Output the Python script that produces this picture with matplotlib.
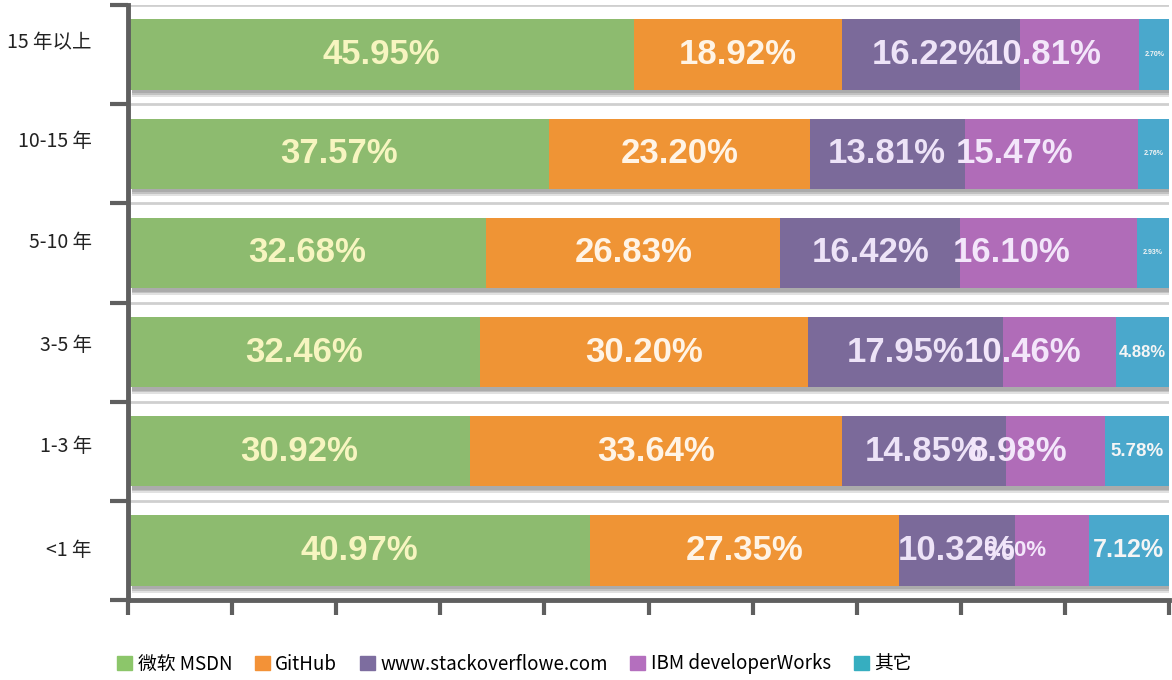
import matplotlib.pyplot as plt
from matplotlib.patches import Patch
from matplotlib.transforms import ScaledTranslation
import numpy as np

plt.rcParams['font.family'] = ['Noto Sans CJK SC', 'DejaVu Sans']

groups = ['15 年以上', '10-15 年', '5-10 年', '3-5 年', '1-3 年', '<1 年']
sources = ['微软 MSDN', 'GitHub', 'www.stackoverflowe.com', 'IBM developerWorks', '其它']
msdn = [45.95, 37.57, 32.68, 32.46, 30.92, 40.97]
github = [18.92, 23.20, 26.83, 30.20, 33.64, 27.35]
stack = [16.22, 13.81, 16.42, 17.95, 14.85, 10.32]
ibm = [10.81, 15.47, 16.10, 10.46, 8.98, 6.50]
other = [2.70, 2.76, 2.93, 4.88, 5.78, 7.12]

colors = ['#8dbb6f', '#ef9435', '#7b6a9a', '#b06cb8', '#4aa8cc']
legend_colors = ['#8cc66a', '#f39237', '#7d6d9f', '#b46fbe', '#36aec0']
text_colors = ['#f7f5c0', '#fff4e6', '#ede3f7', '#f3e6fa', '#f5f5f5']
# label sizes, per series / per row
label_sizes = [[25] * 6, [25] * 6, [25] * 6, [25, 25, 25, 25, 25, 16], [5, 5, 5, 12, 13.5, 18]]
label_shift = [0, 0, 0, -26.6, 0]
# the row names sit a bit above the bar centres in the original
ylabel_raise = [15, 15, 13, 9, 7, 2]

data = np.array([msdn, github, stack, ibm, other])
share = data / data.sum(axis=0)
y = np.arange(len(groups))

fig = plt.figure(figsize=(11.72, 6.8), dpi=100)
ax = fig.add_axes([128 / 1172, 80 / 680, (1169 - 128) / 1172, 595 / 680])

# soft drop shadow under the bars
for dy, a in [(0.07, 0.25), (0.05, 0.35), (0.035, 0.4)]:
    ax.barh(y + dy, 1.0, left=0.004, height=0.71, color='#8a8a8a', alpha=a, zorder=2, lw=0)

left = np.zeros(len(groups))
for i in range(len(sources)):
    ax.barh(y, share[i], left=left, height=0.71, color=colors[i], zorder=3, lw=0)
    for j in range(len(groups)):
        ax.annotate('%.2f%%' % data[i][j], (left[j] + share[i][j] / 2, y[j]),
                    xytext=(label_shift[i], 0), textcoords='offset points',
                    ha='center', va='center', fontsize=label_sizes[i][j],
                    fontweight='bold', family='Liberation Sans',
                    color=text_colors[i], zorder=5)
    left += share[i]

for b in np.arange(-0.5, len(groups), 1.0):
    ax.axhline(b, color='#cfcfcf', lw=2, zorder=1)

ax.set_xlim(0, 1)
ax.set_ylim(len(groups) - 0.5, -0.5)

for s in ['top', 'right']:
    ax.spines[s].set_visible(False)
for s in ['left', 'bottom']:
    ax.spines[s].set_color('#5f5f5f')
    ax.spines[s].set_linewidth(3.5)
    ax.spines[s].set_zorder(6)

ax.set_xticks(np.linspace(0, 1, 11))
ax.set_xticklabels([])
ax.tick_params(axis='x', length=11, width=3, color='#5f5f5f')

ax.set_yticks(y)
ax.set_yticklabels(groups, fontsize=14, color='#222222')
ax.set_yticks(np.arange(-0.5, len(groups), 1.0), minor=True)
ax.tick_params(axis='y', which='major', length=0, pad=26)
ax.tick_params(axis='y', which='minor', length=13, width=3, color='#5f5f5f')
for lab, dy in zip(ax.get_yticklabels(), ylabel_raise):
    lab.set_transform(lab.get_transform() + ScaledTranslation(0, dy / 100, fig.dpi_scale_trans))

handles = [Patch(color=c) for c in legend_colors]
fig.legend(handles, sources, loc='center left', bbox_to_anchor=(100 / 1172, 16 / 680),
           ncol=5, frameon=False, fontsize=13.5, handlelength=0.8, handleheight=0.8,
           handletextpad=0.3, columnspacing=1.2)

fig.savefig('out.png', dpi=100)
